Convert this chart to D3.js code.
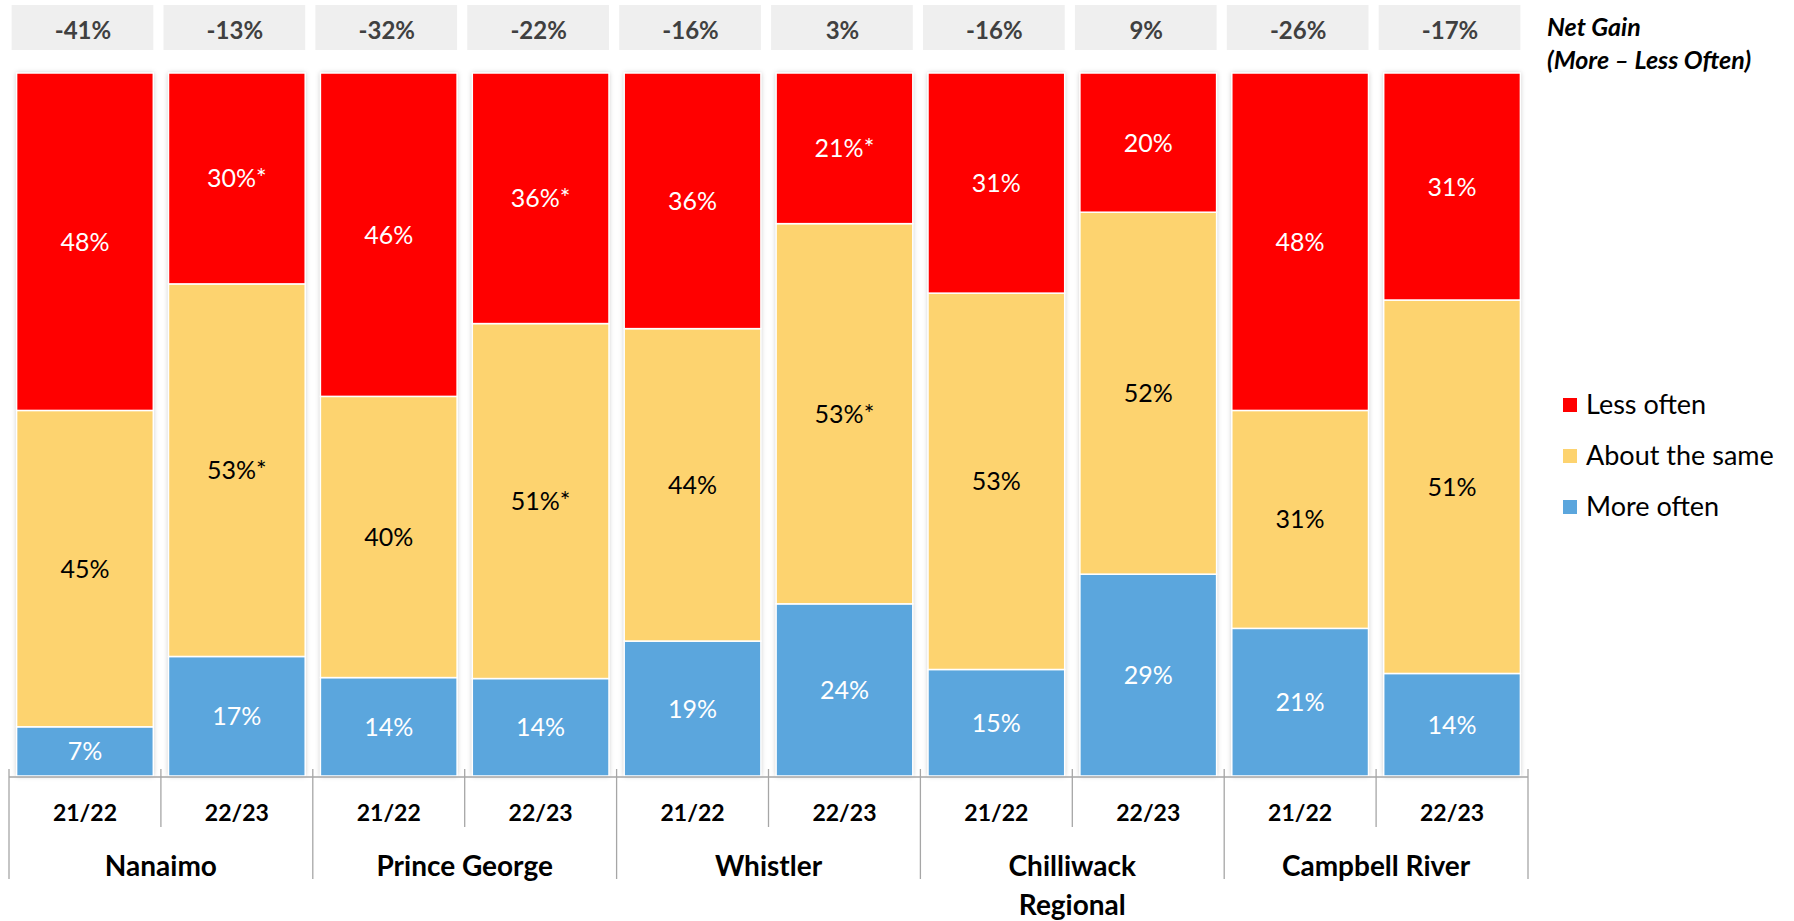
<!DOCTYPE html>
<html>
<head>
<meta charset="utf-8">
<script src="https://cdn.jsdelivr.net/npm/d3@7"></script>
<style>
  body { margin: 0; background: #fff; }
  svg { display: block; font-family: Lato, "Open Sans", sans-serif; }
</style>
</head>
<body>
<svg id="chart" width="1794" height="921"></svg>
<script>
// data
var years = ["21/22", "22/23"];
var groups = ["Nanaimo", "Prince George", "Whistler", "Chilliwack Regional", "Campbell River"];
var lessOften  = [48, 30, 46, 36, 36, 21, 31, 20, 48, 31];
var aboutSame  = [45, 53, 40, 51, 44, 53, 53, 52, 31, 51];
var moreOften  = [7, 17, 14, 14, 19, 24, 15, 29, 21, 14];
var lessStar   = [false, true, false, true, false, true, false, false, false, false];
var sameStar   = [false, true, false, true, false, true, false, false, false, false];
var netGain    = [-41, -13, -32, -22, -16, 3, -16, 9, -26, -17];
var seriesNames = ["Less often", "About the same", "More often"];
var seriesColors = ["#ff0000", "#fdd36f", "#5ba6dd"];
var labelColors = ["#fff", "#000", "#fff"];

var svg = d3.select("#chart");

var bars = [];
groups.forEach(function(g, gi){
  years.forEach(function(y, yi){
    var i = gi * 2 + yi;
    var total = lessOften[i] + aboutSame[i] + moreOften[i];
    bars.push({
      key: g + "|" + y, group: g, year: y, i: i,
      segs: [
        {s: 2, v: moreOften[i], star: false},
        {s: 1, v: aboutSame[i], star: sameStar[i]},
        {s: 0, v: lessOften[i], star: lessStar[i]}
      ].map(function(d){ d.share = d.v / total; return d; })
    });
  });
});

var x = d3.scaleBand()
  .domain(bars.map(function(d){ return d.key; }))
  .range([9, 1528])
  .paddingInner(0.1)
  .paddingOuter(0.05);
var y = d3.scaleLinear().domain([0, 1]).range([776, 73]);

var defs = svg.append("defs");
var f = defs.append("filter").attr("id", "shadow").attr("x", "-10%").attr("y", "-5%").attr("width", "120%").attr("height", "110%");
f.append("feDropShadow").attr("dx", 0).attr("dy", 0).attr("stdDeviation", 2.5)
  .attr("flood-color", "#000").attr("flood-opacity", 0.25);

// net gain boxes
var ng = svg.append("g");
ng.selectAll("rect").data(bars).enter().append("rect")
  .attr("x", function(d){ return x(d.key) - 5; })
  .attr("y", 5)
  .attr("width", x.bandwidth() + 5)
  .attr("height", 45)
  .attr("fill", "#efefef");
ng.selectAll("text").data(bars).enter().append("text")
  .attr("x", function(d){ return x(d.key) + x.bandwidth() / 2 - 2; })
  .attr("y", 39)
  .attr("text-anchor", "middle")
  .attr("font-size", 24)
  .attr("font-weight", "bold")
  .attr("fill", "#404040")
  .text(function(d){ return netGain[d.i] + "%"; });

// stacked bars
var barG = svg.append("g").selectAll("g").data(bars).enter().append("g")
  .attr("transform", function(d){ return "translate(" + x(d.key) + ",0)"; });

barG.append("rect")
  .attr("y", y(1))
  .attr("width", x.bandwidth())
  .attr("height", y(0) - y(1))
  .attr("fill", "#fff")
  .attr("filter", "url(#shadow)");

barG.each(function(d){
  var acc = 0;
  d.segs.forEach(function(s){ s.y0 = acc; acc += s.share; s.y1 = acc; });
});

barG.selectAll("rect.seg").data(function(d){ return d.segs; }).enter().append("rect")
  .attr("class", "seg")
  .attr("y", function(s){ return y(s.y1); })
  .attr("width", x.bandwidth())
  .attr("height", function(s){ return y(s.y0) - y(s.y1); })
  .attr("fill", function(s){ return seriesColors[s.s]; })
  .attr("stroke", "#fff")
  .attr("stroke-width", 1.5);

barG.selectAll("text.lbl").data(function(d){ return d.segs; }).enter().append("text")
  .attr("class", "lbl")
  .attr("x", x.bandwidth() / 2)
  .attr("y", function(s){ return (y(s.y0) + y(s.y1)) / 2 + 9; })
  .attr("text-anchor", "middle")
  .attr("font-size", 25)
  .attr("fill", function(s){ return labelColors[s.s]; })
  .text(function(s){ return s.v + "%" + (s.star ? "*" : ""); });

// category axis
var ax = svg.append("g").attr("stroke", "#a6a6a6").attr("stroke-width", 1.3);
var x0 = x.range()[0], step = x.step();
ax.append("line").attr("x1", x0).attr("x2", x0 + step * bars.length).attr("y1", 777).attr("y2", 777);
d3.range(bars.length + 1).forEach(function(k){
  ax.append("line")
    .attr("x1", x0 + k * step).attr("x2", x0 + k * step)
    .attr("y1", 769).attr("y2", k % 2 === 0 ? 879 : 827);
});

svg.append("g").selectAll("text").data(bars).enter().append("text")
  .attr("x", function(d){ return x(d.key) + x.bandwidth() / 2; })
  .attr("y", 821)
  .attr("text-anchor", "middle")
  .attr("font-size", 23)
  .attr("font-weight", "bold")
  .attr("fill", "#000")
  .text(function(d){ return d.year; });

var gl = svg.append("g").selectAll("text").data(groups).enter().append("text")
  .attr("x", function(g, gi){ return x0 + step * (gi * 2 + 1); })
  .attr("y", 876)
  .attr("text-anchor", "middle")
  .attr("font-size", 28)
  .attr("font-weight", "bold")
  .attr("fill", "#000");
gl.each(function(g){
  var t = d3.select(this);
  var words = g === "Chilliwack Regional" ? ["Chilliwack", "Regional"] : [g];
  words.forEach(function(w, wi){
    t.append("tspan").attr("x", t.attr("x")).attr("dy", wi === 0 ? 0 : 39).text(w);
  });
});

// net gain title
var ngt = svg.append("text").attr("x", 1547).attr("y", 36)
  .attr("font-size", 25).attr("font-weight", "bold").attr("font-style", "italic").attr("fill", "#000");
ngt.append("tspan").attr("x", 1547).text("Net Gain");
ngt.append("tspan").attr("x", 1547).attr("dy", 33).text("(More \u2013 Less Often)");

// legend
var lg = svg.append("g").selectAll("g").data(seriesNames).enter().append("g")
  .attr("transform", function(d, i){ return "translate(1563," + (405 + i * 51) + ")"; });
lg.append("rect").attr("x", 0).attr("y", -7).attr("width", 14).attr("height", 14)
  .attr("fill", function(d, i){ return seriesColors[i]; });
lg.append("text").attr("x", 23).attr("y", 9)
  .attr("font-size", 27).attr("fill", "#000")
  .text(function(d){ return d; });
</script>
</body>
</html>
